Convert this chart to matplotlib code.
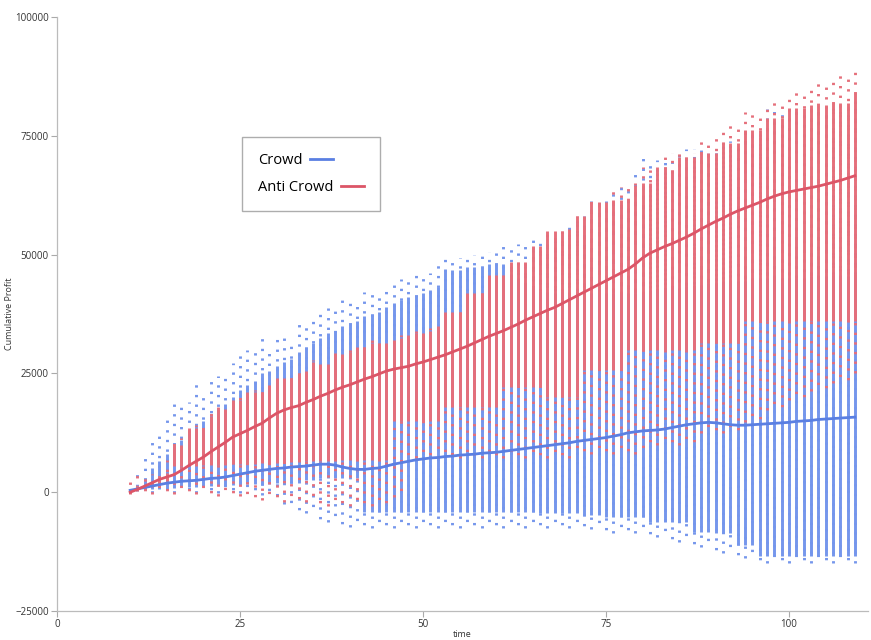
import numpy as np
import matplotlib.pyplot as plt

plt.rcParams["font.family"] = ["Open Sans", "DejaVu Sans"]

# time steps (one strip of simulation results per step)
time = np.arange(10, 110)

# Crowd strategy: mean line, dense core range and outer dots range
crowd_mean = [
    400, 700, 1000, 1300, 1600, 1900, 2100, 2300, 2400, 2500,
    2700, 2900, 3000, 3200, 3500, 3800, 4100, 4400, 4600, 4800,
    5000, 5100, 5300, 5400, 5500, 5700, 5900, 5900, 5700, 5300,
    5000, 4800, 4800, 5000, 5100, 5500, 5900, 6200, 6500, 6800,
    7000, 7200, 7300, 7500, 7600, 7800, 7900, 8000, 8200, 8300,
    8400, 8600, 8800, 9000, 9200, 9400, 9600, 9800, 10000, 10200,
    10400, 10700, 10900, 11100, 11300, 11500, 11800, 12100, 12500, 12700,
    12900, 13000, 13100, 13300, 13600, 13900, 14200, 14400, 14600, 14700,
    14600, 14400, 14200, 14100, 14100, 14200, 14300, 14400, 14500, 14600,
    14700, 14900, 15000, 15100, 15300, 15400, 15500, 15600, 15700, 15800,
]
crowd_max = [
    1000, 4600, 7800, 11600, 12400, 15600, 19400, 19200, 19000, 22700,
    21000, 24200, 24400, 24200, 27100, 30100, 29900, 30000, 33500, 29500,
    32600, 32600, 31800, 35800, 35800, 37000, 38700, 38700, 38700, 40400,
    40400, 39800, 42100, 42100, 42100, 43600, 44200, 44800, 44800, 45700,
    46100, 46100, 48600, 49300, 49300, 49300, 49900, 49900, 50500, 50500,
    51600, 52200, 52200, 52200, 52200, 53300, 53300, 53300, 52800, 52800,
    55800, 58100, 58100, 61300, 61300, 61300, 64200, 64200, 64200, 66900,
    70700, 70000, 70000, 70000, 69500, 72200, 72200, 72200, 72200, 72200,
    72200, 73900, 73900, 73900, 76200, 76200, 76200, 80600, 80600, 80600,
    80600, 80600, 80600, 80800, 80800, 80800, 81000, 81000, 81000, 81000,
]
crowd_core_hi = [
    500, 1500, 3000, 5000, 6500, 8000, 10000, 11000, 12500, 14000,
    15000, 16500, 17500, 18500, 20000, 21500, 22500, 23500, 25000, 25500,
    26500, 27500, 28000, 29500, 30500, 31500, 32500, 33500, 34000, 35000,
    35500, 36000, 37000, 37500, 38000, 39000, 39800, 40500, 41000, 41500,
    42000, 42500, 43200, 46700, 46700, 46700, 47400, 47400, 47400, 48000,
    48000, 48000, 46000, 45000, 44000, 43000, 42000, 42000, 42000, 42000,
    42000, 42000, 42000, 42000, 42000, 42000, 42000, 42000, 42000, 42000,
    42000, 42500, 42500, 43000, 43000, 43000, 43500, 43500, 43500, 44000,
    44000, 44000, 44500, 44500, 44500, 45000, 45000, 45000, 45000, 45000,
    45000, 45000, 45000, 45500, 45500, 45500, 45500, 45500, 45500, 45500,
]
crowd_core_lo = [
    200, 300, 500, 600, 700, 800, 900, 1000, 1000, 1200,
    1300, 1400, 1500, 1500, 1600, 1600, 1700, 1700, 1800, 1800,
    1900, 1900, 2000, 2000, 2500, 2500, 3000, 3000, 3000, 3000,
    3000, 3000, -4200, -4200, -4200, -4200, -4200, -4200, -4200, -4200,
    -4200, -4200, -4200, -4200, -4200, -4200, -4200, -4200, -4200, -4200,
    -4200, -4200, -4200, -4200, -4200, -4200, -4400, -4400, -4400, -4400,
    -4400, -4400, -4800, -4800, -4800, -5300, -5300, -5300, -5300, -5300,
    -5300, -6300, -6300, -6300, -6300, -6300, -6300, -8400, -8400, -8400,
    -8600, -8600, -8600, -11200, -11200, -11200, -13500, -13500, -13500, -13500,
    -13500, -13500, -13500, -13500, -13500, -13500, -13500, -13500, -13500, -13500,
]
crowd_min = [
    -200, -200, -200, -200, -200, -200, -200, -200, -200, -200,
    -200, -200, -200, -200, -200, -200, -200, -200, -600, -1000,
    -1500, -2500, -3500, -4400, -4400, -4400, -6300, -6300, -6300, -7400,
    -7400, -7400, -7500, -7500, -7500, -7500, -7500, -7500, -7500, -7500,
    -7500, -7500, -7500, -7500, -7500, -7500, -7500, -7500, -7500, -7500,
    -7500, -7500, -7500, -7500, -7500, -7500, -7500, -7500, -7500, -7500,
    -7500, -7500, -7800, -7800, -7800, -8600, -8600, -8600, -8600, -8600,
    -8600, -9500, -9500, -9500, -10500, -10500, -10500, -11600, -11600, -11600,
    -12800, -12800, -12800, -13900, -13900, -13900, -14800, -14800, -14800, -14800,
    -14800, -14800, -14800, -14800, -14800, -14800, -14800, -14800, -14800, -14800,
]

# Anti Crowd strategy
anti_mean = [
    0, 600, 1300, 2000, 2700, 3200, 3700, 4600, 5600, 6500,
    7400, 8500, 9500, 10500, 11600, 12300, 13000, 13800, 14500, 15600,
    16600, 17300, 17800, 18200, 18900, 19500, 20200, 20800, 21500, 22100,
    22600, 23200, 23800, 24300, 24900, 25500, 25900, 26200, 26500, 27000,
    27400, 27900, 28400, 28900, 29500, 30100, 30700, 31400, 32100, 32800,
    33400, 34000, 34700, 35400, 36200, 36900, 37600, 38300, 38900, 39700,
    40500, 41300, 42100, 42900, 43700, 44500, 45300, 46100, 46900, 48000,
    49300, 50300, 51000, 51700, 52300, 53000, 53700, 54500, 55400, 56200,
    57000, 57700, 58500, 59200, 59800, 60400, 61000, 61700, 62300, 62800,
    63200, 63500, 63800, 64100, 64400, 64800, 65200, 65600, 66100, 66600,
]
anti_max = [
    3600, 3600, 3600, 3800, 4500, 6700, 11400, 11400, 14100, 14100,
    14000, 16600, 17900, 17900, 20000, 20000, 21500, 21500, 21500, 22900,
    24200, 24200, 24200, 25000, 25500, 27800, 27000, 27000, 29300, 29300,
    29900, 30500, 30500, 32000, 31500, 31500, 32500, 33000, 33500, 34000,
    34000, 34500, 35500, 37900, 37900, 37900, 41900, 41900, 41900, 45700,
    45700, 45700, 48400, 48400, 48400, 51800, 51800, 54900, 54900, 54900,
    55400, 58100, 58100, 61300, 61300, 61300, 64200, 64200, 64200, 65000,
    68400, 68400, 68400, 71300, 71300, 71300, 71300, 71300, 74500, 74500,
    74500, 77200, 77200, 77200, 80000, 80000, 80000, 82100, 82100, 82100,
    84200, 84200, 84200, 86100, 86100, 86100, 87800, 87800, 87800, 89700,
]
anti_core_hi = [
    500, 800, 1000, 1500, 2500, 4000, 10000, 10000, 13500, 13500,
    13500, 16000, 17500, 17500, 19500, 19500, 21000, 21000, 21000, 22500,
    24000, 24000, 24000, 25000, 25500, 27500, 27000, 27000, 29000, 29000,
    29500, 30500, 30500, 31500, 31500, 31500, 32000, 32500, 33000, 33500,
    33500, 34000, 35000, 37900, 37900, 37900, 41900, 41900, 41900, 45700,
    45700, 45700, 48400, 48400, 48400, 51800, 51800, 54900, 54900, 54900,
    55400, 58100, 58100, 61000, 61000, 61000, 61500, 61500, 61500, 64600,
    65000, 65000, 68400, 68400, 67800, 70500, 70500, 70500, 71300, 71300,
    71300, 73500, 73500, 73500, 76200, 76200, 76200, 78700, 78700, 78700,
    80800, 80800, 80800, 81500, 81500, 81500, 82000, 82000, 82000, 84000,
]
anti_core_lo = [
    0, 300, 600, 1000, 1500, 2500, 5500, 5500, 5500, 5500,
    5800, 5800, 5800, 5800, 6000, 6000, 6000, 6000, 6200, 6200,
    6200, 6300, 6300, 6300, 6500, 6500, 6500, 6500, 6700, 6700,
    6700, 6700, 6700, 6800, 6800, 6800, 15000, 15000, 15000, 15000,
    15000, 15000, 15000, 18000, 18000, 18000, 18000, 18000, 18000, 18000,
    18000, 22100, 22100, 22100, 22100, 22100, 22100, 20000, 20000, 20000,
    20000, 20000, 25700, 25700, 25700, 25700, 25700, 25700, 30000, 30000,
    30000, 30000, 30000, 30000, 30000, 30000, 30000, 30000, 31400, 31400,
    31400, 31400, 31400, 31400, 36000, 36000, 36000, 36000, 36000, 36000,
    36000, 36000, 36000, 36000, 36000, 36000, 36000, 36000, 36000, 36000,
]
anti_min = [
    -300, -300, -300, -300, -300, -300, -300, -300, -300, -300,
    -300, -800, -800, -800, -800, -800, -1700, -1700, -1700, -1700,
    -1700, -2000, -2000, -2000, -2000, -2000, -3000, -3000, -3000, -3000,
    -3000, -3000, -3000, -3000, -3000, -3000, -1000, -1000, 7200, 7200,
    7200, 7200, 7200, 7200, 7200, 7200, 7200, 7200, 7200, 7200,
    7200, 7200, 7200, 7200, 7200, 7200, 7200, 7200, 7200, 7200,
    7200, 8000, 8000, 8000, 8000, 8000, 8000, 8000, 8000, 8000,
    8000, 10000, 10000, 10000, 10000, 10000, 10000, 10000, 12400, 12400,
    12400, 12400, 12400, 12400, 14700, 14700, 14700, 17300, 17300, 17300,
    19400, 19400, 19400, 21300, 21300, 21300, 22900, 22900, 22900, 25000,
]

BLUE_STRIP = "#7596ec"
RED_STRIP = "#e56f7b"
BLUE_LINE = "#5a7fe2"
RED_LINE = "#dc5567"
STRIP_W = 2.1
# dotted tails; the dash phase shifts from strip to strip so dots don't line up in rows
DOTS = [((k % 3) * 1.1, (0.8, 2.5)) for k in range(len(time))]

fig = plt.figure(figsize=(8.71, 6.4), dpi=100)
ax = fig.add_axes([0.0654, 0.0453, 0.9312, 0.9281])

# strips: sparse dots over the full range, solid over the dense core
ax.vlines(time, crowd_min, crowd_max, colors=BLUE_STRIP, linewidth=STRIP_W, linestyles=DOTS, zorder=1)
ax.vlines(time, crowd_core_lo, crowd_core_hi, colors=BLUE_STRIP, linewidth=STRIP_W, zorder=2)
ax.vlines(time, anti_min, anti_max, colors=RED_STRIP, linewidth=STRIP_W, linestyles=DOTS, zorder=3)
ax.vlines(time, anti_core_lo, anti_core_hi, colors=RED_STRIP, linewidth=STRIP_W, zorder=4)

ax.plot(time, crowd_mean, color=BLUE_LINE, linewidth=2.0, label="Crowd", zorder=5)
ax.plot(time, anti_mean, color=RED_LINE, linewidth=2.0, label="Anti Crowd", zorder=5)

ax.set_xlim(0, 110.8)
ax.set_ylim(-25000, 100000)
ax.set_xticks([0, 25, 50, 75, 100])
ax.set_yticks([-25000, 0, 25000, 50000, 75000, 100000])
ax.tick_params(colors="#aaaaaa", labelcolor="#333333", labelsize=7, length=4, width=0.8, pad=2)

for side in ["top", "right"]:
    ax.spines[side].set_visible(False)
for side in ["left", "bottom"]:
    ax.spines[side].set_color("#bbbbbb")
    ax.spines[side].set_linewidth(0.9)

ax.set_xlabel("time", fontsize=6.5, color="#333333", labelpad=0)
ax.set_ylabel("Cumulative Profit", fontsize=6.5, color="#333333", labelpad=4)
ax.xaxis.set_label_coords(0.5, -0.032)
ax.yaxis.set_label_coords(-0.053, 0.5)

leg = ax.legend(loc="upper left", bbox_to_anchor=(0.228, 0.798), markerfirst=False,
                fancybox=False, frameon=True, fontsize=10.5, borderpad=1.1,
                labelspacing=0.85, handlelength=1.6, handletextpad=0.5, borderaxespad=0)
leg.get_frame().set_edgecolor("#999999")
leg.get_frame().set_linewidth(1.0)
# handle sits right after each label, entries left aligned
for column in leg._legend_handle_box.get_children():
    column.align = "left"

fig.savefig("out.png", dpi=100)
